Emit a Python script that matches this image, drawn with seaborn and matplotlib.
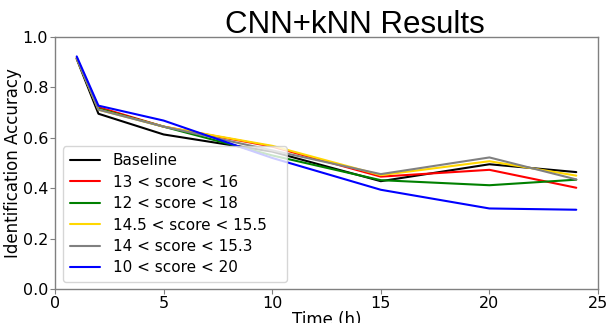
import matplotlib
matplotlib.use("Agg")
import matplotlib.pyplot as plt
import seaborn as sns
import pandas as pd

time_h = [1, 2, 5, 10, 15, 20, 24]
series_names = ["Baseline", "13 < score < 16", "12 < score < 18",
                "14.5 < score < 15.5", "14 < score < 15.3", "10 < score < 20"]
baseline = [0.912, 0.695, 0.613, 0.545, 0.428, 0.495, 0.464]
s13_16 = [0.915, 0.721, 0.644, 0.565, 0.446, 0.473, 0.402]
s12_18 = [0.915, 0.715, 0.644, 0.530, 0.432, 0.412, 0.434]
s145_155 = [0.915, 0.711, 0.644, 0.568, 0.452, 0.507, 0.450]
s14_153 = [0.915, 0.711, 0.644, 0.550, 0.456, 0.522, 0.435]
s10_20 = [0.922, 0.727, 0.668, 0.520, 0.394, 0.320, 0.315]
colors = ["black", "red", "green", "gold", "gray", "blue"]

all_vals = [baseline, s13_16, s12_18, s145_155, s14_153, s10_20]
rows = []
for name, vals in zip(series_names, all_vals):
    for t, v in zip(time_h, vals):
        rows.append({"Time": t, "Accuracy": v, "Series": name})
df = pd.DataFrame(rows)

sns.set_style("white")
plt.rcParams['font.family'] = ['DejaVu Sans']
plt.rcParams['text.color'] = 'black'
plt.rcParams['axes.labelcolor'] = 'black'

W, H = 606, 323
fig = plt.figure(figsize=(W / 100, H / 100), dpi=100)
ax = fig.add_axes([55 / W, 1 - 289.3 / H, (598 - 55) / W, (289.3 - 36.7) / H])

sns.lineplot(data=df, x="Time", y="Accuracy", hue="Series", hue_order=series_names,
             palette=colors, ax=ax, linewidth=1.5, estimator=None, sort=False)

ax.set_xlim(0, 25)
ax.set_ylim(0, 1.0)
ax.set_xticks([0, 5, 10, 15, 20, 25])
ax.set_yticks([0.0, 0.2, 0.4, 0.6, 0.8, 1.0])
ax.tick_params(axis='both', labelsize=11.5, length=3.5, width=0.8,
               color='#808080', labelcolor='black', bottom=True, left=True, pad=1.5)
for s in ax.spines.values():
    s.set_color('#808080')
    s.set_linewidth(1.0)
ax.set_xlabel("Time (h)", fontsize=12, labelpad=0)
ax.set_ylabel("Identification Accuracy", fontsize=12)
ax.yaxis.set_label_coords(-0.06, 0.5)

handles, labels = ax.get_legend_handles_labels()
leg = ax.legend(handles, labels, loc='lower left', fontsize=11, frameon=True,
                framealpha=0.8, edgecolor='#cccccc',
                bbox_to_anchor=(8 / 543, 7 / 252.6, 224 / 543, 0.5), mode='expand',
                handlelength=2.0, labelspacing=0.42, borderpad=0.45,
                borderaxespad=0)
for t in leg.get_texts():
    t.set_color('black')

fig.text(355 / W, 1 - 33 / H, "CNN+kNN Results", ha='center', va='baseline',
         fontsize=22.5, family=['Liberation Sans', 'DejaVu Sans'])

fig.savefig("out.png", dpi=100)
